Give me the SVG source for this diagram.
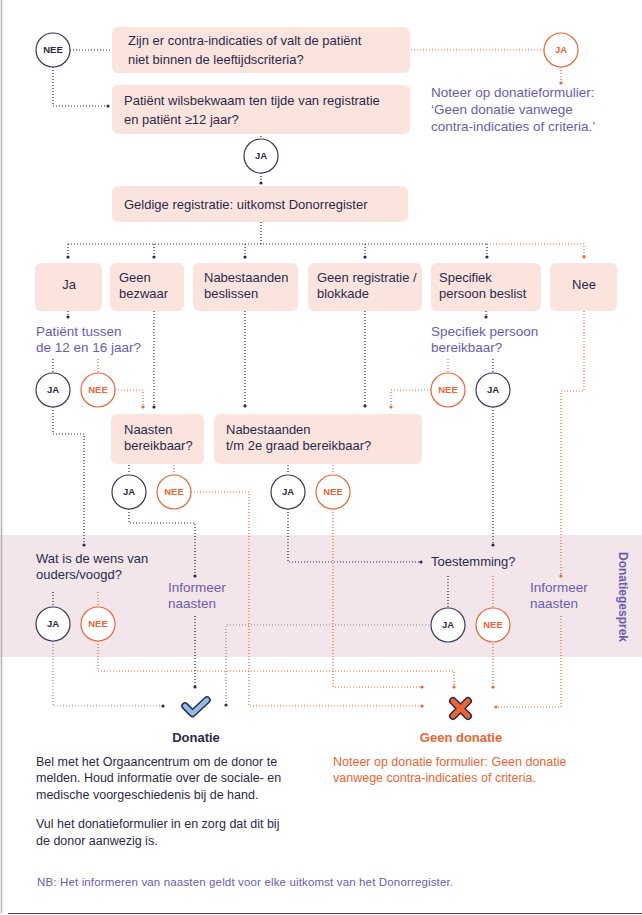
<svg xmlns="http://www.w3.org/2000/svg" width="642" height="915" viewBox="0 0 642 915">
<defs>
<style>
.box{fill:#fbe4de;}
.t{font-family:"Liberation Sans",Arial,sans-serif;font-size:13px;fill:#2c2a4a;}
.p{font-family:"Liberation Sans",Arial,sans-serif;font-size:13.5px;fill:#6b5cb3;}
.b{font-family:"Liberation Sans",Arial,sans-serif;font-size:12.5px;fill:#2c2a4a;}
.o{font-family:"Liberation Sans",Arial,sans-serif;font-size:12.5px;fill:#ee6532;}
.cd{fill:#fff;stroke:#3a3852;stroke-width:1.2;}
.co{fill:#fff;stroke:#ee6532;stroke-width:1.2;}
.ld{font-family:"Liberation Sans",Arial,sans-serif;font-size:9.5px;font-weight:bold;fill:#2c2a4a;text-anchor:middle;}
.lo{font-family:"Liberation Sans",Arial,sans-serif;font-size:9.5px;font-weight:bold;fill:#ee6532;text-anchor:middle;}
.d{fill:none;stroke:#2c2a4a;stroke-width:1.2;stroke-dasharray:1 2;}
.g{fill:none;stroke:#8a879a;stroke-width:1.2;stroke-dasharray:1 2;}
.r{fill:none;stroke:#ee6532;stroke-width:1.2;stroke-dasharray:1 2;}
</style>
<marker id="dd" viewBox="0 0 4 4" refX="2" refY="2" markerWidth="4" markerHeight="4" markerUnits="userSpaceOnUse"><circle cx="2" cy="2" r="1.6" fill="#2c2a4a"/></marker>
<marker id="do" viewBox="0 0 4 4" refX="2" refY="2" markerWidth="4" markerHeight="4" markerUnits="userSpaceOnUse"><circle cx="2" cy="2" r="1.6" fill="#ee6532"/></marker>
</defs>
<rect width="642" height="915" fill="#fff"/>
<rect x="0" y="535" width="642" height="122" fill="#f2e6ea"/>
<line x1="1.5" y1="0" x2="1.5" y2="913" stroke="#b0b0b0" stroke-width="1.5"/>
<line x1="8" y1="913.5" x2="642" y2="913.5" stroke="#444" stroke-width="1"/>
<text x="619" y="597" transform="rotate(90 619 597)" text-anchor="middle" font-family="Liberation Sans,Arial,sans-serif" font-size="12px" font-weight="bold" fill="#6b5cb3">Donatiegesprek</text>

<g id="connectors">
<path class="d" d="M70,50 H113"/>
<path class="d" d="M53,67 V106 H108" marker-end="url(#dd)"/>
<path class="d" d="M261,127 V139"/>
<path class="d" d="M261,173 V183" marker-end="url(#dd)"/>
<path class="r" d="M402,50 H544"/>
<path class="r" d="M561,67 V83" marker-end="url(#do)"/>
<path class="d" d="M261,222 V244 M68,244 H487"/>
<path class="d" d="M68,244 V257" marker-end="url(#dd)"/>
<path class="d" d="M154,244 V257" marker-end="url(#dd)"/>
<path class="d" d="M245,244 V257" marker-end="url(#dd)"/>
<path class="d" d="M365,244 V257" marker-end="url(#dd)"/>
<path class="d" d="M487,244 V257" marker-end="url(#dd)"/>
<path class="r" d="M487,244 H584 V257" marker-end="url(#do)"/>
<path class="d" d="M68,305 V317" marker-end="url(#dd)"/>
<path class="d" d="M53,359 V373"/>
<path class="r" d="M98,359 V373"/>
<path class="r" d="M115,390 H143 V407" marker-end="url(#do)"/>
<path class="d" d="M154,305 V407" marker-end="url(#dd)"/>
<path class="d" d="M245,305 V406" marker-end="url(#dd)"/>
<path class="d" d="M365,305 V406" marker-end="url(#dd)"/>
<path class="d" d="M486,305 V317" marker-end="url(#dd)"/>
<path class="r" d="M448,359 V373"/>
<path class="d" d="M493,359 V373"/>
<path class="r" d="M431,390 H391 V407" marker-end="url(#do)"/>
<path class="d" d="M493,407 V545" marker-end="url(#dd)"/>
<path class="r" d="M584,305 V391 H561 V576" marker-end="url(#do)"/>
<path class="r" d="M561,616 V707 H496" marker-end="url(#do)"/>
<path class="d" d="M129,459 V474"/>
<path class="r" d="M174,459 V474"/>
<path class="d" d="M288,459 V474"/>
<path class="r" d="M333,459 V474"/>
<path class="d" d="M129,509 V523 H195 V576" marker-end="url(#dd)"/>
<path class="d" d="M195,616 V687" marker-end="url(#dd)"/>
<path class="r" d="M191,492 H249 V706 H422" marker-end="url(#do)"/>
<path class="r" d="M333,509 V687 H422" marker-end="url(#do)"/>
<path class="d" d="M53,407 V434 H84 V545" marker-end="url(#dd)"/>
<path class="d" d="M53,592 V607"/>
<path class="r" d="M98,592 V607"/>
<path class="g" d="M53,641 V706 H163" marker-end="url(#dd)"/>
<path class="r" d="M98,641 V671 H454 V687" marker-end="url(#do)"/>
<path class="d" d="M288,509 V562 H421" marker-end="url(#dd)"/>
<path class="d" d="M448,576 V607"/>
<path class="r" d="M493,576 V607"/>
<path class="g" d="M432,625 H226 V705" marker-end="url(#dd)"/>
<path class="r" d="M493,641 V687" marker-end="url(#do)"/>
</g>

<g id="q1"><rect class="box" x="112" y="27" width="298" height="46" rx="6"/>
<text class="t" x="128" y="45">Zijn er contra-indicaties of valt de patiënt</text>
<text class="t" x="128" y="64">niet binnen de leeftijdscriteria?</text></g>
<g id="nee1"><circle class="cd" cx="53" cy="50" r="17"/><text class="ld" x="53" y="53.4">NEE</text></g>
<g id="ja1"><circle class="co" cx="561" cy="50" r="17"/><text class="lo" x="561" y="53.4">JA</text></g>
<g id="note1">
<text class="p" x="431" y="97">Noteer op donatieformulier:</text>
<text class="p" x="431" y="114">‘Geen donatie vanwege</text>
<text class="p" x="431" y="131"> contra-indicaties of criteria.’</text></g>
<g id="q2"><rect class="box" x="112" y="85" width="298" height="49" rx="6"/>
<text class="t" x="124" y="105">Patiënt wilsbekwaam ten tijde van registratie</text>
<text class="t" x="124" y="124">en patiënt ≥12 jaar?</text></g>
<g id="ja2"><circle class="cd" cx="261" cy="156" r="17"/><text class="ld" x="261" y="159.4">JA</text></g>
<g id="q3"><rect class="box" x="112" y="186" width="296" height="36" rx="6"/>
<text class="t" x="124" y="209">Geldige registratie: uitkomst Donorregister</text></g>

<g id="ja"><rect class="box" x="35" y="263" width="67" height="48" rx="6"/><text class="t" x="69" y="289" text-anchor="middle">Ja</text></g>
<g id="geenbezwaar"><rect class="box" x="110" y="263" width="74" height="48" rx="6"/><text class="t" x="119" y="282">Geen</text><text class="t" x="119" y="298">bezwaar</text></g>
<g id="nabestaanden"><rect class="box" x="193" y="263" width="105" height="48" rx="6"/><text class="t" x="204" y="282">Nabestaanden</text><text class="t" x="204" y="298">beslissen</text></g>
<g id="geenreg"><rect class="box" x="308" y="263" width="114" height="48" rx="6"/><text class="t" x="317" y="282">Geen registratie /</text><text class="t" x="317" y="298">blokkade</text></g>
<g id="specifiek"><rect class="box" x="431" y="263" width="110" height="48" rx="6"/><text class="t" x="439" y="282">Specifiek</text><text class="t" x="439" y="298">persoon beslist</text></g>
<g id="nee"><rect class="box" x="550" y="263" width="67" height="48" rx="6"/><text class="t" x="584" y="289" text-anchor="middle">Nee</text></g>

<g id="q12"><text class="p" x="36" y="336">Patiënt tussen</text><text class="p" x="36" y="352">de 12 en 16 jaar?</text></g>
<g id="ja3"><circle class="cd" cx="53" cy="390" r="17"/><text class="ld" x="53" y="393.4">JA</text></g>
<g id="nee3"><circle class="co" cx="98" cy="390" r="17"/><text class="lo" x="98" y="393.4">NEE</text></g>
<g id="qspec"><text class="p" x="431" y="336">Specifiek persoon</text><text class="p" x="431" y="352">bereikbaar?</text></g>
<g id="nee4"><circle class="co" cx="448" cy="390" r="17"/><text class="lo" x="448" y="393.4">NEE</text></g>
<g id="ja4"><circle class="cd" cx="493" cy="390" r="17"/><text class="ld" x="493" y="393.4">JA</text></g>

<g id="naasten"><rect class="box" x="111" y="414" width="93" height="50" rx="6"/><text class="t" x="124" y="434">Naasten</text><text class="t" x="124" y="450">bereikbaar?</text></g>
<g id="nab2"><rect class="box" x="214" y="414" width="208" height="50" rx="6"/><text class="t" x="226" y="434">Nabestaanden</text><text class="t" x="226" y="450">t/m 2e graad bereikbaar?</text></g>
<g id="ja5"><circle class="cd" cx="129" cy="492" r="17"/><text class="ld" x="129" y="495.4">JA</text></g>
<g id="nee5"><circle class="co" cx="174" cy="492" r="17"/><text class="lo" x="174" y="495.4">NEE</text></g>
<g id="ja6"><circle class="cd" cx="288" cy="492" r="17"/><text class="ld" x="288" y="495.4">JA</text></g>
<g id="nee6"><circle class="co" cx="333" cy="492" r="17"/><text class="lo" x="333" y="495.4">NEE</text></g>

<g id="wens"><text class="t" x="36" y="563">Wat is de wens van</text><text class="t" x="36" y="579">ouders/voogd?</text></g>
<g id="ja7"><circle class="cd" cx="53" cy="624" r="17"/><text class="ld" x="53" y="627.4">JA</text></g>
<g id="nee7"><circle class="co" cx="98" cy="624" r="17"/><text class="lo" x="98" y="627.4">NEE</text></g>
<g id="inf1"><text class="p" x="168" y="592">Informeer</text><text class="p" x="168" y="608">naasten</text></g>
<g id="toest"><text class="t" x="431" y="566">Toestemming?</text></g>
<g id="ja8"><circle class="cd" cx="448" cy="625" r="17"/><text class="ld" x="448" y="628.4">JA</text></g>
<g id="nee8"><circle class="co" cx="493" cy="625" r="17"/><text class="lo" x="493" y="628.4">NEE</text></g>
<g id="inf2"><text class="p" x="530" y="592">Informeer</text><text class="p" x="530" y="608">naasten</text></g>

<g id="donatie">
<path d="M185,706 L192.5,713.5 L207,700" fill="none" stroke="#2c2a4a" stroke-width="7.5" stroke-linecap="round" stroke-linejoin="round"/>
<path d="M185,706 L192.5,713.5 L207,700" fill="none" stroke="#93bde9" stroke-width="4.5" stroke-linecap="round" stroke-linejoin="round"/>
<text x="196" y="742" text-anchor="middle" font-family="Liberation Sans,Arial,sans-serif" font-size="13px" font-weight="bold" fill="#2c2a4a">Donatie</text>
<text class="b" x="36" y="766">Bel met het Orgaancentrum om de donor te</text>
<text class="b" x="36" y="782">melden. Houd informatie over de sociale- en</text>
<text class="b" x="36" y="799">medische voorgeschiedenis bij de hand.</text>
<text class="b" x="36" y="828">Vul het donatieformulier in en zorg dat dit bij</text>
<text class="b" x="36" y="845">de donor aanwezig is.</text>
</g>
<g id="geendonatie">
<path d="M453,701 L468,716 M468,701 L453,716" fill="none" stroke="#2c2a4a" stroke-width="8" stroke-linecap="round"/>
<path d="M453,701 L468,716 M468,701 L453,716" fill="none" stroke="#ee6532" stroke-width="5" stroke-linecap="round"/>
<text x="461" y="742" text-anchor="middle" font-family="Liberation Sans,Arial,sans-serif" font-size="13px" font-weight="bold" fill="#ee6532">Geen donatie</text>
<text class="o" x="333" y="766">Noteer op donatie formulier: Geen donatie</text>
<text class="o" x="333" y="782">vanwege contra-indicaties of criteria.</text>
</g>
<text x="37" y="886" font-family="Liberation Sans,Arial,sans-serif" font-size="11.5px" fill="#6b5cb3" textLength="416" lengthAdjust="spacing">NB: Het informeren van naasten geldt voor elke uitkomst van het Donorregister.</text>
</svg>
